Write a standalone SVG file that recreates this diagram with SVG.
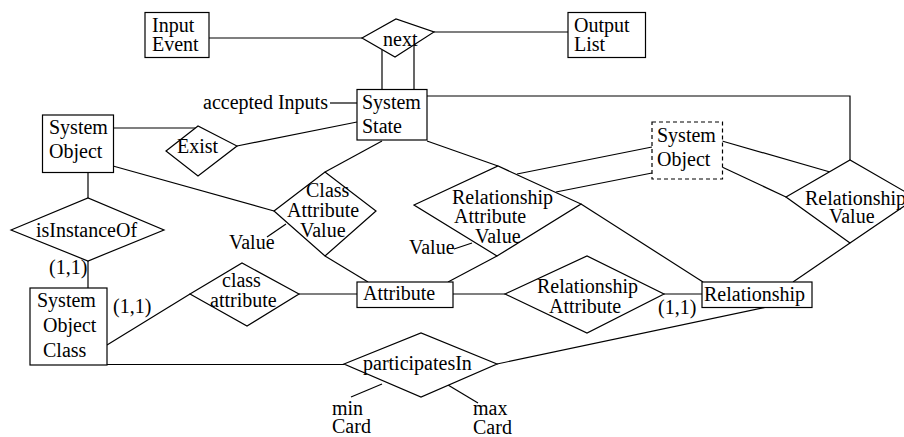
<svg xmlns="http://www.w3.org/2000/svg" width="904" height="437" viewBox="0 0 904 437">
<style>
.n rect,.n polygon{fill:#fff;stroke:#000;stroke-width:1.2}
.dash{stroke-dasharray:4 3}
#connectors path{fill:none;stroke:#000;stroke-width:1.2}
text{font-family:"Liberation Serif","Times New Roman",serif;font-size:20px;fill:#000}
</style>
<rect x="0" y="0" width="904" height="437" fill="#fff"/>
<g id="connectors">
<path d="M209,38 L362,38"/>
<path d="M434,32 L568,32"/>
<path d="M382,50 L382,89"/>
<path d="M414,45 L414,89"/>
<path d="M330,103 L357,103"/>
<path d="M427,96 L850,96 L850,160"/>
<path d="M113,128 L196,128"/>
<path d="M237,146 L357,122"/>
<path d="M113,166 L274,211"/>
<path d="M382,141 L325,172"/>
<path d="M325,256 L368,282"/>
<path d="M267,237 L286,224"/>
<path d="M427,141 L498,166"/>
<path d="M497,256 L448,282"/>
<path d="M581,204 L703,282"/>
<path d="M454,249 L472,243"/>
<path d="M652,147 L517,174"/>
<path d="M652,173 L556,192"/>
<path d="M722,141 L830,172"/>
<path d="M722,167 L786,197"/>
<path d="M850,243 L793,282"/>
<path d="M88,172 L88,198"/>
<path d="M88,261 L88,288"/>
<path d="M107,345 L190,294"/>
<path d="M299,294 L357,294"/>
<path d="M447,294 L505,294"/>
<path d="M664,294 L702,294"/>
<path d="M767,307 L497,364"/>
<path d="M107,364.5 L344,364.5"/>
<path d="M382,384 L351,397"/>
<path d="M448,385 L478,403"/>
</g>
<g id="inputEvent" class="n"><rect x="145" y="12.5" width="64" height="45"/><text x="152" y="32">Input</text><text x="152" y="51">Event</text></g>
<g id="next" class="n"><polygon points="362,38 396,19 434,32 395,57"/><text x="383" y="46">next</text></g>
<g id="outputList" class="n"><rect x="568" y="12.5" width="77.5" height="45"/><text x="574" y="32">Output</text><text x="574" y="51">List</text></g>
<g id="systemState" class="n"><rect x="357" y="89.5" width="70" height="50.5"/><text x="362" y="109">System</text><text x="362" y="133">State</text></g>
<g id="acceptedInputs"><text x="203" y="109">accepted Inputs</text></g>
<g id="systemObject" class="n"><rect x="42.5" y="115" width="71" height="57.5"/><text x="49" y="134">System</text><text x="49" y="158">Object</text></g>
<g id="exist" class="n"><polygon points="166,151 198,126 237,146 198,176"/><text x="177" y="153">Exist</text></g>
<g id="isInstanceOf" class="n"><polygon points="11,230 88,198 164,230 88,261"/><text x="36" y="237">isInstanceOf</text></g>
<g id="card1"><text x="49" y="274">(1,1)</text></g>
<g id="systemObjectClass" class="n"><rect x="30" y="288" width="77" height="77"/><text x="37" y="307">System</text><text x="43" y="332">Object</text><text x="43" y="357">Class</text></g>
<g id="card2"><text x="113" y="313">(1,1)</text></g>
<g id="classAttributeValue" class="n"><polygon points="274,211 325,172 376,211 325,256"/><text x="306" y="197">Class</text><text x="287" y="217">Attribute</text><text x="300" y="237">Value</text></g>
<g id="cavValue"><text x="229" y="249">Value</text></g>
<g id="classAttribute" class="n"><polygon points="190,294 242,263 299,294 247,326"/><text x="222" y="287">class</text><text x="210" y="307">attribute</text></g>
<g id="attribute" class="n"><rect x="357" y="282" width="96" height="25.5"/><text x="363" y="300">Attribute</text></g>
<g id="relationshipAttributeValue" class="n"><polygon points="414,205 498,166 581,204 497,256"/><text x="452" y="204">Relationship</text><text x="454" y="223">Attribute</text><text x="475" y="243">Value</text></g>
<g id="ravValue"><text x="409" y="254">Value</text></g>
<g id="systemObjectDashed" class="n"><rect class="dash" x="652" y="122" width="70.5" height="57"/><text x="657" y="142">System</text><text x="657" y="166">Object</text></g>
<g id="relationshipValue" class="n"><polygon points="786,197 850,160 916,198 850,243"/><text x="805" y="205">Relationship</text><text x="829" y="223">Value</text></g>
<g id="relationshipAttribute" class="n"><polygon points="505,294 587,256 664,294 587,333"/><text x="537" y="293">Relationship</text><text x="549" y="313">Attribute</text></g>
<g id="card3"><text x="658" y="314">(1,1)</text></g>
<g id="relationship" class="n"><rect x="702" y="282" width="110" height="25.5"/><text x="704" y="301">Relationship</text></g>
<g id="participatesIn" class="n"><polygon points="344,364 421,333 497,364 421,397"/><text x="363" y="370">participatesIn</text></g>
<g id="minCard"><text x="332" y="415">min</text><text x="332" y="433">Card</text></g>
<g id="maxCard"><text x="473" y="415">max</text><text x="473" y="434">Card</text></g>
</svg>
